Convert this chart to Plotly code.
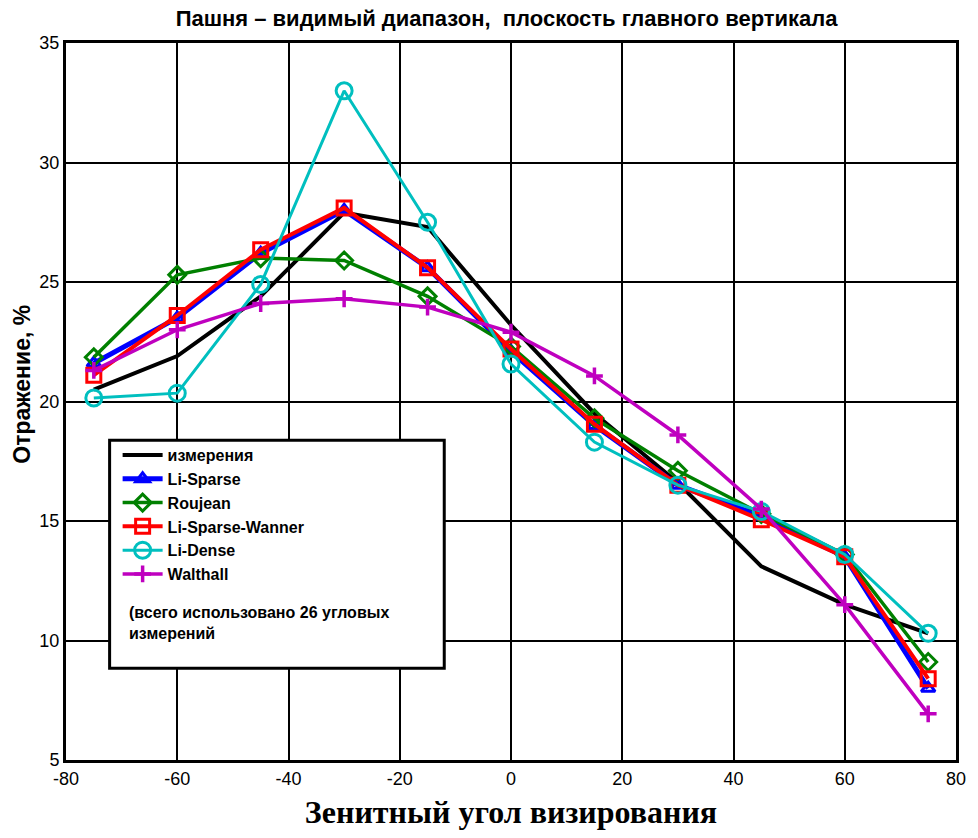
import plotly.graph_objects as go

angles = [-75, -60, -45, -30, -15, 0, 15, 30, 45, 60, 75]

measured = [20.5, 21.9, 24.4, 27.9, 27.3, 23.2, 19.5, 16.6, 13.1, 11.5, 10.3]
li_sparse = [21.6, 23.5, 26.2, 28.0, 25.6, 22.1, 19.0, 16.5, 15.2, 13.5, 8.0]
roujean = [21.85, 25.3, 26.0, 25.9, 24.4, 22.3, 19.3, 17.1, 15.3, 13.6, 9.1]
li_sparse_wanner = [21.1, 23.6, 26.35, 28.1, 25.6, 22.2, 19.05, 16.5, 15.05, 13.5, 8.4]
li_dense = [20.15, 20.35, 24.9, 33.0, 27.5, 21.57, 18.3, 16.5, 15.4, 13.6, 10.3]
walthall = [21.3, 23.0, 24.1, 24.3, 23.95, 22.9, 21.07, 18.6, 15.5, 11.5, 6.93]

x_ticks = [-80, -60, -40, -20, 0, 20, 40, 60, 80]
x_tick_labels = ["-80", "-60", "-40", "-20", "0", "20", "40", "60", "80"]
y_ticks = [5, 10, 15, 20, 25, 30, 35]
y_tick_labels = ["5", "10", "15", "20", "25", "30", "35"]

title_text = "Пашня – видимый диапазон,  плоскость главного вертикала"
x_title = "Зенитный угол визирования"
y_title = "Отражение, %"
note_text = "(всего использовано 26 угловых<br>измерений"

fig = go.Figure()

fig.add_trace(go.Scatter(x=angles, y=measured, name="<b>измерения</b>", mode="lines",
                         line=dict(color="black", width=4)))
fig.add_trace(go.Scatter(x=angles, y=li_sparse, name="<b>Li-Sparse</b>", mode="lines+markers",
                         line=dict(color="#0000ff", width=5),
                         marker=dict(symbol="triangle-up-open", size=12, color="#0000ff",
                                     line=dict(width=3, color="#0000ff"))))
fig.add_trace(go.Scatter(x=angles, y=roujean, name="<b>Roujean</b>", mode="lines+markers",
                         line=dict(color="#008000", width=3.5),
                         marker=dict(symbol="diamond-open", size=13, color="#008000",
                                     line=dict(width=3, color="#008000"))))
fig.add_trace(go.Scatter(x=angles, y=li_sparse_wanner, name="<b>Li-Sparse-Wanner</b>", mode="lines+markers",
                         line=dict(color="#ff0000", width=4),
                         marker=dict(symbol="square-open", size=14, color="#ff0000",
                                     line=dict(width=3, color="#ff0000"))))
fig.add_trace(go.Scatter(x=angles, y=li_dense, name="<b>Li-Dense</b>", mode="lines+markers",
                         line=dict(color="#00bfbf", width=3),
                         marker=dict(symbol="circle-open", size=16, color="#00bfbf",
                                     line=dict(width=3, color="#00bfbf"))))
fig.add_trace(go.Scatter(x=angles, y=walthall, name="<b>Walthall</b>", mode="lines+markers",
                         line=dict(color="#bf00bf", width=3.5),
                         marker=dict(symbol="cross-thin", size=12, color="#bf00bf",
                                     line=dict(width=3.5, color="#bf00bf"))))

tick_font = dict(family="Liberation Sans, Arial", size=18, color="black")

fig.update_layout(
    width=978, height=838,
    margin=dict(l=66, r=15, t=43, b=78),
    paper_bgcolor="white", plot_bgcolor="white",
    title=dict(text="<b>" + title_text + "</b>", x=0.518, xanchor="center", y=0.978, yanchor="middle",
               font=dict(family="Liberation Sans, Arial", size=22, color="black")),
    showlegend=True,
    legend=dict(x=0.058, y=0.449, xanchor="left", yanchor="top",
                bgcolor="rgba(0,0,0,0)", borderwidth=0,
                font=dict(family="Liberation Sans, Arial", size=16, color="black"),
                itemwidth=40, tracegroupgap=0),
    xaxis=dict(range=[-80, 80], tickvals=x_ticks, ticktext=x_tick_labels, ticks="", tickfont=tick_font,
               showgrid=True, gridcolor="black", gridwidth=2, zeroline=False,
               showline=True, linecolor="black", linewidth=3, mirror=True,
               title=dict(text="<b>" + x_title + "</b>", standoff=14,
                          font=dict(family="Liberation Serif, Times New Roman, serif", size=32, color="black"))),
    yaxis=dict(range=[5, 35], tickvals=y_ticks, ticktext=y_tick_labels, ticks="", tickfont=tick_font,
               showgrid=True, gridcolor="black", gridwidth=2, zeroline=False,
               showline=True, linecolor="black", linewidth=3, mirror=True),
)

fig.add_annotation(xref="paper", yref="paper", x=-0.049, y=0.524, xanchor="center", yanchor="middle",
                   text="<b>" + y_title + "</b>", showarrow=False, textangle=-90,
                   font=dict(family="Liberation Sans, Arial", size=23, color="black"))

fig.add_shape(type="rect", xref="paper", yref="paper", x0=0.049, x1=0.425, y0=0.128, y1=0.446,
              line=dict(color="black", width=3), fillcolor="white", layer="above")

fig.add_annotation(xref="paper", yref="paper", x=0.068, y=0.191, xanchor="left", yanchor="middle",
                   text="<b>" + note_text + "</b>", showarrow=False, align="left",
                   font=dict(family="Liberation Sans, Arial", size=16, color="black"))

fig.write_html("out.html")
